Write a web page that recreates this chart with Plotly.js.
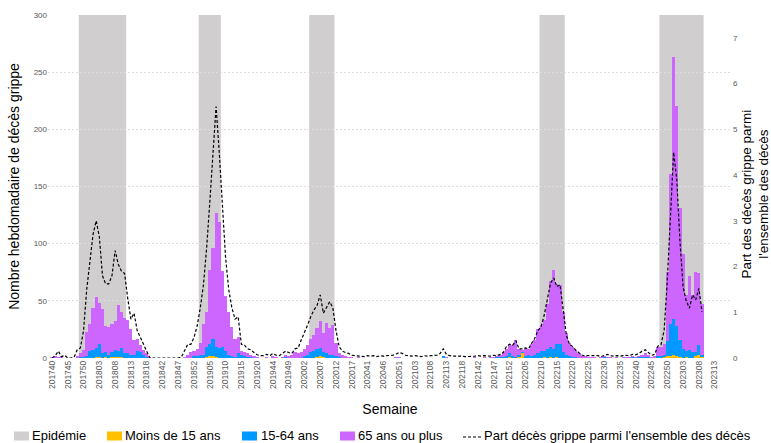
<!DOCTYPE html>
<html><head><meta charset="utf-8">
<script src="https://cdn.plot.ly/plotly-3.0.1.min.js"></script>
<style>html,body{margin:0;padding:0;background:#fff}#chart{width:771px;height:443px}</style>
</head><body><div id="chart"></div>
<script>
// Semaines (catégories)
const weeks = [
'201740','201741','201742','201743','201744','201745','201746','201747','201748','201749','201750','201751','201752',
'201801','201802','201803','201804','201805','201806','201807','201808','201809','201810','201811','201812','201813','201814','201815','201816','201817','201818','201819','201820',
'201840','201841','201842','201843','201844','201845','201846','201847','201848','201849','201850','201851','201852',
'201901','201902','201903','201904','201905','201906','201907','201908','201909','201910','201911','201912','201913','201914','201915','201916','201917','201918','201919','201920',
'201940','201941','201942','201943','201944','201945','201946','201947','201948','201949','201950','201951','201952',
'202001','202002','202003','202004','202005','202006','202007','202008','202009','202010','202011','202012','202013','202014','202015','202016','202017','202018','202019','202020',
'202040','202041','202042','202043','202044','202045','202046','202047','202048','202049','202050','202051','202052','202053',
'202101','202102','202103','202104','202105','202106','202107','202108','202109','202110','202111','202112','202113','202114','202115','202116','202117','202118','202119','202120',
'202140','202141','202142','202143','202144','202145','202146','202147','202148','202149','202150','202151','202152',
'202201','202202','202203','202204','202205','202206','202207','202208','202209','202210','202211','202212','202213','202214','202215','202216','202217','202218','202219','202220',
'202221','202222','202223','202224','202225','202226','202227','202228','202229','202230','202231','202232','202233','202234','202235','202236','202237','202238','202239','202240',
'202241','202242','202243','202244','202245','202246','202247','202248','202249','202250','202251','202252',
'202301','202302','202303','202304','202305','202306','202307','202308','202309','202310','202311','202312','202313'
];

// Moins de 15 ans
const moins15 = [
0,0,0,0,0,0,0,0,0,0,0,0,0,0,1,1,0,1,0,1,1,1,1,0,0,0,0,0,0,0,0,0,0,
0,0,0,0,0,0,0,0,0,0,0,0,0,0,0,0,1,2,2,1,0,0,0,0,0,0,0,0,0,0,0,0,0,
0,0,0,0,0,0,0,0,0,0,0,0,0,0,0,0,0,0,1,2,1,0,0,0,0,0,0,0,0,0,0,0,0,
0,0,0,0,0,0,0,0,0,0,0,0,0,0,0,0,0,0,0,0,0,0,0,0,0,0,0,0,0,0,0,0,0,0,
0,0,0,0,0,0,0,0,0,0,
0,0,1,0,0,1,4,0,0,0,
0,0,0,1,0,1,0,1,0,0,
0,0,0,0,0,0,0,0,0,0,
0,0,0,0,0,0,0,0,0,0,
0,0,0,0,0,0,0,0,0,0,
0,1,2,2,3,2,1,0,1,0,
0,2,3,1,null,null,null,null
];

// 15-64 ans
const ans15a64 = [
0,0,0,0,0,0,0,0,0,1,1,2,6,7,8,11,4,4,3,4,6,5,8,4,4,3,3,6,5,3,1,0,0,
0,0,0,0,0,0,0,0,0,0,0,0,2,2,3,3,9,10,15,9,9,10,6,3,2,1,4,3,2,1,1,0,0,
0,0,0,0,0,0,0,0,1,0,0,0,0,0,2,3,5,6,7,7,4,4,3,3,2,1,0,0,0,0,0,0,0,
0,0,0,0,0,0,0,0,0,0,0,0,0,0,0,0,0,0,0,0,0,0,0,0,0,2,0,0,0,0,0,0,0,0,
0,0,0,0,0,0,0,0,1,1,
1,2,3,2,1,2,1,2,3,2,
3,4,6,5,8,9,8,11,12,5,
3,2,1,1,0,0,0,0,0,0,
0,0,1,0,0,0,0,0,0,0,
0,1,0,1,1,1,1,0,0,2,
2,2,13,28,31,26,15,8,5,7,
5,3,8,2,null,null,null,null
];

// 65 ans ou plus
const ans65plus = [
1,2,1,2,0,0,0,0,2,3,6,21,24,37,44,36,39,23,24,25,25,40,31,31,29,22,13,11,6,4,3,1,0,
0,0,0,0,0,0,0,0,0,1,3,5,4,6,10,27,30,65,79,117,110,66,48,37,25,16,14,3,3,3,2,2,1,
0,0,1,0,2,1,0,1,2,2,3,5,4,5,6,8,12,14,18,23,17,27,23,26,11,3,3,2,1,1,0,1,0,
0,0,0,0,0,0,0,0,0,0,1,1,0,0,0,0,0,0,0,0,0,0,0,0,0,0,1,0,0,0,0,0,0,0,
0,1,0,0,1,0,1,1,1,2,
4,6,8,9,15,5,2,7,5,10,
13,21,23,27,39,57,69,53,52,35,
19,11,9,6,4,2,2,1,1,1,
0,1,1,1,1,0,1,0,1,1,
1,1,1,1,2,3,2,1,2,8,
8,9,60,131,229,192,115,83,49,65,
50,70,63,44,null,null,null,null
];

// Part des décès grippe parmi l'ensemble des décès (%)
const partDeces = [
0,0.05,0.15,0.03,0.06,0,0,0.02,0.18,0.22,0.6,1.5,2.1,2.7,3.0,2.65,1.8,1.62,1.62,1.8,2.35,2.05,1.9,1.85,1.3,0.85,0.98,0.6,0.45,0.3,0.15,0,0,
0,0,0,0,0,0,0,0,0.02,0.15,0.3,0.3,0.45,0.7,1.1,1.6,2.4,3.4,4.4,5.5,4.5,3.2,2.2,1.5,1.1,0.85,0.9,0.3,0.28,0.2,0.18,0.12,0.07,
0.05,0.05,0.08,0.05,0.1,0.06,0.05,0.1,0.15,0.12,0.1,0.2,0.22,0.4,0.55,0.72,0.9,1.05,1.15,1.38,0.98,1.1,1.23,1.1,0.6,0.25,0.15,0.12,0.1,0.06,0.05,0.05,0.03,
0.03,0.05,0.04,0.05,0.03,0.05,0.04,0.05,0.05,0.06,0.08,0.12,0.1,0.06,0.05,0.04,0.05,0.04,0.03,0.05,0.04,0.05,0.05,0.06,0.1,0.2,0.08,0.05,0.04,0.04,0.05,0.04,0.03,0.03,
0.03,0.04,0.05,0.04,0.05,0.05,0.04,0.06,0.05,0.08,
0.12,0.25,0.3,0.28,0.38,0.2,0.2,0.22,0.2,0.32,
0.43,0.6,0.68,0.94,1.27,1.64,1.75,1.56,1.6,1.0,
0.5,0.3,0.25,0.17,0.12,0.06,0.05,0.05,0.05,0.04,
0.05,0.03,0.06,0.08,0.05,0.04,0.05,0.04,0.05,0.06,
0.05,0.08,0.07,0.1,0.15,0.18,0.12,0.06,0.08,0.26,
0.29,0.61,1.7,3.2,4.5,3.9,2.56,1.55,1.25,1.09,
1.38,1.27,1.52,1.01,null,null,null,null
];

// Périodes épidémiques
const epidemicStart = ['201749','201902','202004','202210','202248'];
const epidemicEnd   = ['201811','201908','202011','202217','202309'];

// Saisons
const seasonLabels = ['2017-18','2018-19','2019-20','2020-21','2021-22','2022-23'];
const seasonLabelWeeks = ['201804','201905','202006','202112','202213','202302'];

// Légende
const legendNames = ['Epidémie','Moins de 15 ans','15-64 ans','65 ans ou plus',"Part décès grippe parmi l'ensemble des décès"];

const tickWeeks = weeks.filter((w, i) => i % 5 === 0);

const FONT = '"Liberation Sans", Arial, sans-serif';
const GRAY = '#d0cece';
const COLORS = [GRAY, '#ffc000', '#0099ff', '#cc66ff', '#000000'];

const W = 771, H = 443;
const M = {l:48, r:39, t:15, b:85};
const pw = W - M.l - M.r, ph = H - M.t - M.b;
const px = x => (x - M.l) / pw;      // pixel -> paper x
const py = y => (H - M.b - y) / ph;  // pixel -> paper y

const traces = [
  {type:'bar', name:legendNames[1], x:weeks, y:moins15, marker:{color:COLORS[1]}, showlegend:false},
  {type:'bar', name:legendNames[2], x:weeks, y:ans15a64, marker:{color:COLORS[2]}, showlegend:false},
  {type:'bar', name:legendNames[3], x:weeks, y:ans65plus, marker:{color:COLORS[3]}, showlegend:false},
  {type:'scatter', mode:'lines', name:legendNames[4], x:weeks, y:partDeces, yaxis:'y2', showlegend:false,
   line:{color:'#000', width:1.2, dash:'3px,2px'}, connectgaps:false}
];

const shapes = epidemicStart.map((s, i) => ({
  type:'rect', xref:'x', yref:'paper', layer:'between',
  x0: weeks.indexOf(s) - 0.5, x1: weeks.indexOf(epidemicEnd[i]) + 0.5,
  y0: 0, y1: 1, fillcolor: GRAY, line:{width:0}
}));

const annotations = seasonLabels.map((t, i) => ({
  text: t, x: seasonLabelWeeks[i], xref:'x', y: py(30), yref:'paper',
  showarrow:false, font:{family:FONT, size:13.5, color:'#000'}, xanchor:'center', yanchor:'middle'
}));

// right axis title
annotations.push({text:"Part des décès grippe parmi<br>l'ensemble des décès", xref:'paper', yref:'paper',
  x:px(754.5), y:py(194), xanchor:'center', yanchor:'middle', textangle:-90, showarrow:false,
  font:{family:FONT, size:13.5, color:'#000'}});

// manual legend (one row, as in the reference)
const legY = 436;
const legBoxX = [14, 107, 242, 340];
const legTextX = [30, 123, 259, 356];
legBoxX.forEach((bx, i) => {
  shapes.push({type:'rect', xref:'paper', yref:'paper', x0:px(bx), x1:px(bx+15), y0:py(legY+4.5), y1:py(legY-4.5),
               fillcolor:COLORS[i], line:{width:0}});
  annotations.push({text:legendNames[i], xref:'paper', yref:'paper', x:px(legTextX[i]), y:py(legY), xanchor:'left', yanchor:'middle',
                    showarrow:false, font:{family:FONT, size:13, color:'#000'}});
});
shapes.push({type:'line', xref:'paper', yref:'paper', x0:px(463), x1:px(481), y0:py(legY+1), y1:py(legY+1),
             line:{color:'#000', width:1.2, dash:'3px,2px'}});
annotations.push({text:legendNames[4], xref:'paper', yref:'paper', x:px(482), y:py(legY), xanchor:'left', yanchor:'middle',
                  showarrow:false, font:{family:FONT, size:13, color:'#000'}});

const layout = {
  width:W, height:H,
  margin:M,
  paper_bgcolor:'#fff', plot_bgcolor:'#fff',
  font:{family:FONT, color:'#000'},
  barmode:'stack', bargap:0,
  showlegend:false,
  xaxis:{type:'category', range:[-1.27, 215.5], tickmode:'array', tickvals:tickWeeks, ticktext:tickWeeks, tickangle:-90,
         tickfont:{family:FONT, size:8.5, color:'#595959'}, showgrid:false, zeroline:false, showline:false, ticks:'',
         automargin:false,
         title:{text:'Semaine', font:{family:FONT, size:14, color:'#000'}, standoff:16}},
  yaxis:{range:[0,300], dtick:50, tickfont:{family:FONT, size:8, color:'#595959'}, gridcolor:'#dcdcdc', griddash:'2px,2px', gridwidth:1,
         zeroline:false, showline:false, ticks:'', automargin:false,
         title:{text:'Nombre hebdomadaire de décès grippe', font:{family:FONT, size:14, color:'#000'}, standoff:10}},
  yaxis2:{overlaying:'y', side:'right', range:[0,7.5], dtick:1, showgrid:false, zeroline:false, showline:false, ticks:'',
          automargin:false,
          tickfont:{family:FONT, size:8, color:'#595959'}},
  shapes: shapes,
  annotations: annotations
};

Plotly.newPlot('chart', traces, layout, {displayModeBar:false, staticPlot:true});
</script>
</body></html>
